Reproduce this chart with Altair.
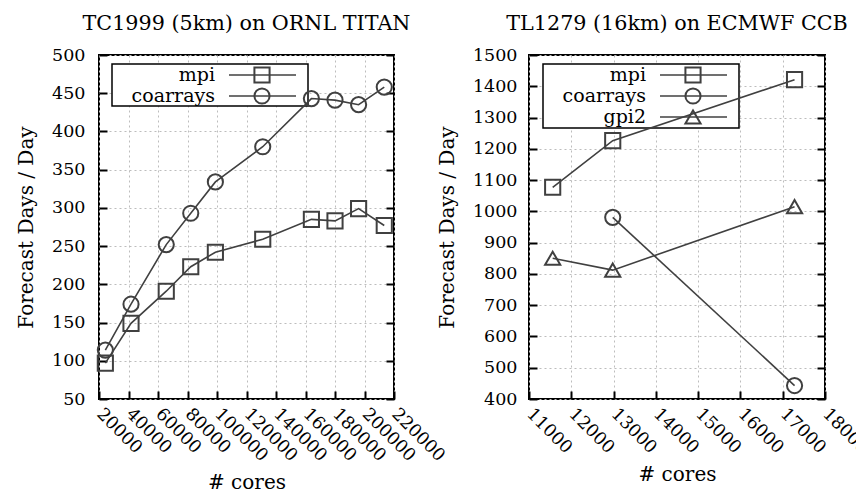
import altair as alt
import pandas as pd

# ---------------- data ----------------
series_names = ["mpi", "coarrays", "gpi2"]
series_shapes = ["square", "circle", "triangle-up"]

titan_title = "TC1999 (5km) on ORNL TITAN"
titan_cores = [24300, 41700, 65600, 82200, 98900, 131000, 164000, 180000, 196000, 213400]
titan_mpi = [97, 149, 191, 223, 242, 259, 285, 283, 299, 277]
titan_coarrays = [114, 174, 252, 293, 334, 380, 443, 441, 435, 458]
titan_xticks = [20000, 40000, 60000, 80000, 100000, 120000, 140000, 160000, 180000, 200000, 220000]
titan_yticks = [50, 100, 150, 200, 250, 300, 350, 400, 450, 500]

ccb_title = "TL1279 (16km) on ECMWF CCB"
ccb_cores = [11560, 12980, 17280]
ccb_mpi = [1077, 1226, 1421]
ccb_coarrays_cores = [12980, 17280]
ccb_coarrays = [981, 443]
ccb_gpi2 = [850, 812, 1015]
ccb_xticks = [11000, 12000, 13000, 14000, 15000, 16000, 17000, 18000]
ccb_yticks = [400, 500, 600, 700, 800, 900, 1000, 1100, 1200, 1300, 1400, 1500]

x_title = "# cores"
y_title = "Forecast Days / Day"

FONT = "DejaVu Serif"
LINE = "#404040"

titan_df = pd.concat([
    pd.DataFrame({"cores": titan_cores, "value": titan_mpi, "series": "mpi"}),
    pd.DataFrame({"cores": titan_cores, "value": titan_coarrays, "series": "coarrays"}),
])
ccb_df = pd.concat([
    pd.DataFrame({"cores": ccb_cores, "value": ccb_mpi, "series": "mpi"}),
    pd.DataFrame({"cores": ccb_coarrays_cores, "value": ccb_coarrays, "series": "coarrays"}),
    pd.DataFrame({"cores": ccb_cores, "value": ccb_gpi2, "series": "gpi2"}),
])

one_row = pd.DataFrame({"k": [0]})
shape_scale = alt.Scale(domain=series_names, range=series_shapes)

common_axis = dict(labelFont=FONT, labelFontSize=17.5, labelColor="black",
                   titleFont=FONT, titleFontSize=20, titleFontWeight="normal",
                   titleColor="black", domain=False, tickColor="black", tickWidth=2,
                   tickSize=8, offset=-8, gridColor="#bdbdbd", gridDash=[2, 3],
                   gridWidth=1, labelFlush=False, labelOverlap=False, labelBound=False)


def panel(df, names, title, xticks, yticks, width, height, legend_box, ylabpad):
    xs = alt.Scale(domain=[xticks[0], xticks[-1]], nice=False, zero=False)
    ys = alt.Scale(domain=[yticks[0], yticks[-1]], nice=False, zero=False)
    xaxis = alt.Axis(values=xticks, format="d", title=x_title, labelAngle=45,
                     labelAlign="left", labelBaseline="middle", labelPadding=12,
                     titlePadding=8, **common_axis)
    x = alt.X("cores:Q", scale=xs, axis=xaxis)

    lines = alt.Chart(df).mark_line(color=LINE, strokeWidth=1.6).encode(
        x=x,
        y=alt.Y("value:Q", scale=ys,
                axis=alt.Axis(values=yticks, format="d", title=y_title,
                              labelPadding=ylabpad, titlePadding=15, **common_axis)),
        detail="series:N",
    )
    points = alt.Chart(df).mark_point(filled=False, color=LINE, strokeWidth=2, size=230,
                                      opacity=1).encode(
        x=x,
        y=alt.Y("value:Q", scale=ys,
                axis=alt.Axis(values=yticks, orient="right", labels=False, title=None,
                              grid=False, **common_axis)),
        shape=alt.Shape("series:N", scale=shape_scale, legend=None),
    )

    # key box (gnuplot style: label, then line sample with marker)
    bx0, bx1, by0, by1 = legend_box
    layers = [alt.Chart(one_row).mark_rect(fill="white", stroke="black", strokeWidth=1.5).encode(
        x=alt.value(bx0), x2=alt.value(bx1), y=alt.value(by0), y2=alt.value(by1))]
    for i, name in enumerate(names):
        shp = series_shapes[series_names.index(name)]
        ry = by0 + 11 + i * 21
        layers.append(alt.Chart(one_row).mark_text(font=FONT, fontSize=19, align="right",
                                                   baseline="middle", color="black").encode(
            x=alt.value(bx0 + 103), y=alt.value(ry), text=alt.value(name)))
        layers.append(alt.Chart(one_row).mark_rule(color=LINE, strokeWidth=1.6).encode(
            x=alt.value(bx0 + 117), x2=alt.value(bx0 + 184), y=alt.value(ry)))
        layers.append(alt.Chart(one_row).mark_point(shape=shp, filled=False, color=LINE,
                                                    strokeWidth=2, size=230, opacity=1).encode(
            x=alt.value(bx0 + 150), y=alt.value(ry)))

    return alt.layer(*layers, lines, points).resolve_axis(y="independent").properties(
        width=width, height=height,
        title=alt.Title(title, font=FONT, fontSize=20.7, fontWeight="normal",
                        anchor="middle", offset=11, color="black"),
    )


left = panel(titan_df, series_names[:2], titan_title, titan_xticks, titan_yticks,
             295, 344, (13, 209, 9, 51), 14)
right = panel(ccb_df, series_names, ccb_title, ccb_xticks, ccb_yticks,
              296, 344, (14, 210, 9, 73), 12)

chart = alt.hconcat(left, right, spacing=135, bounds="flush").configure(
    padding={"top": 4, "left": 7, "right": -16, "bottom": 0}, background="white"
).configure_view(
    stroke="black", strokeWidth=2
)

chart.save("out.html", embed_options={"renderer": "svg", "actions": False})
